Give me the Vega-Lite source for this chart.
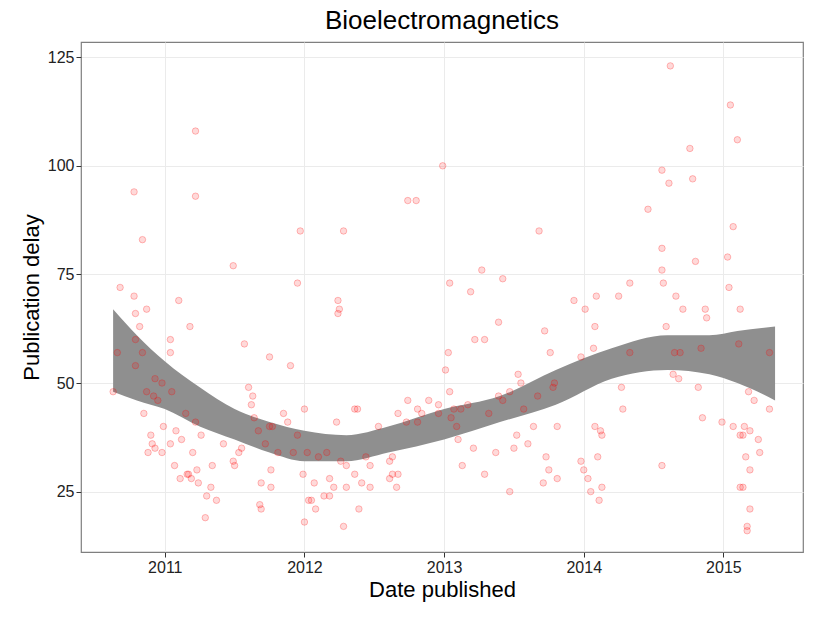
{
  "$schema": "https://vega.github.io/schema/vega-lite/v6.json",
  "autosize": {"type": "fit", "contains": "padding"},
  "width": 825,
  "height": 618,
  "padding": {"left": 20, "right": 22, "top": 8, "bottom": 18},
  "background": "white",
  "config": {
    "font": "Liberation Sans",
    "view": {"stroke": "#7f7f7f", "strokeWidth": 1.2},
    "axis": {"gridColor": "#ebebeb", "domain": false, "tickColor": "#333333", "labelColor": "#222222", "labelFontSize": 16, "titleFontSize": 22, "titleFontWeight": "normal", "titleColor": "black", "tickSize": 5}
  },
  "title": {"text": "Bioelectromagnetics", "fontSize": 26, "fontWeight": "normal", "anchor": "middle", "offset": 8},
  "datasets": {
    "pts": [
      {"d":2010.63,"v":48},{"d":2010.66,"v":57},{"d":2010.68,"v":72},{"d":2010.78,"v":94},{"d":2010.78,"v":70},{"d":2010.79,"v":66},{"d":2010.79,"v":60},{"d":2010.79,"v":54},{"d":2010.82,"v":63},{"d":2010.84,"v":83},{"d":2010.84,"v":57},{"d":2010.85,"v":43},{"d":2010.87,"v":67},{"d":2010.87,"v":48},{"d":2010.88,"v":34},{"d":2010.90,"v":38},{"d":2010.91,"v":36},{"d":2010.92,"v":47},{"d":2010.93,"v":51},{"d":2010.93,"v":35},{"d":2010.95,"v":46},{"d":2010.98,"v":50},{"d":2010.98,"v":34},{"d":2010.99,"v":40},{"d":2011.04,"v":57},{"d":2011.04,"v":60},{"d":2011.04,"v":36},{"d":2011.05,"v":48},{"d":2011.07,"v":31},{"d":2011.08,"v":39},{"d":2011.10,"v":69},{"d":2011.11,"v":28},{"d":2011.12,"v":37},{"d":2011.15,"v":43},{"d":2011.16,"v":29},{"d":2011.17,"v":29},{"d":2011.18,"v":63},{"d":2011.19,"v":28},{"d":2011.20,"v":34},{"d":2011.22,"v":41},{"d":2011.23,"v":30},{"d":2011.22,"v":108},{"d":2011.22,"v":93},{"d":2011.24,"v":27},{"d":2011.26,"v":38},{"d":2011.29,"v":19},{"d":2011.30,"v":24},{"d":2011.33,"v":26},{"d":2011.34,"v":31},{"d":2011.37,"v":23},{"d":2011.42,"v":36},{"d":2011.49,"v":32},{"d":2011.50,"v":31},{"d":2011.49,"v":77},{"d":2011.53,"v":34},{"d":2011.55,"v":35},{"d":2011.57,"v":59},{"d":2011.60,"v":49},{"d":2011.62,"v":45},{"d":2011.64,"v":42},{"d":2011.63,"v":47},{"d":2011.67,"v":39},{"d":2011.68,"v":22},{"d":2011.69,"v":27},{"d":2011.69,"v":21},{"d":2011.72,"v":36},{"d":2011.75,"v":40},{"d":2011.76,"v":26},{"d":2011.76,"v":30},{"d":2011.75,"v":56},{"d":2011.77,"v":40},{"d":2011.85,"v":43},{"d":2011.90,"v":54},{"d":2011.92,"v":34},{"d":2011.95,"v":73},{"d":2011.97,"v":85},{"d":2011.99,"v":29},{"d":2012.00,"v":44},{"d":2012.00,"v":18},{"d":2012.02,"v":34},{"d":2012.03,"v":23},{"d":2012.05,"v":23},{"d":2012.07,"v":27},{"d":2012.10,"v":33},{"d":2012.08,"v":21},{"d":2012.14,"v":24},{"d":2012.18,"v":28},{"d":2012.18,"v":24},{"d":2012.21,"v":26},{"d":2012.24,"v":69},{"d":2012.24,"v":66},{"d":2012.25,"v":67},{"d":2012.23,"v":41},{"d":2012.28,"v":85},{"d":2012.26,"v":32},{"d":2012.28,"v":17},{"d":2012.30,"v":26},{"d":2012.36,"v":44},{"d":2012.38,"v":44},{"d":2012.36,"v":29},{"d":2012.39,"v":21},{"d":2012.41,"v":27},{"d":2012.47,"v":31},{"d":2012.47,"v":26},{"d":2012.61,"v":32},{"d":2012.61,"v":28},{"d":2012.63,"v":29},{"d":2012.66,"v":26},{"d":2012.67,"v":29},{"d":2012.74,"v":92},{"d":2012.80,"v":92},{"d":2012.73,"v":41},{"d":2012.74,"v":46},{"d":2012.81,"v":44},{"d":2012.84,"v":43},{"d":2012.99,"v":100},{"d":2013.01,"v":53},{"d":2013.03,"v":57},{"d":2013.04,"v":48},{"d":2013.04,"v":73},{"d":2013.05,"v":42},{"d":2013.10,"v":37},{"d":2013.13,"v":31},{"d":2013.19,"v":71},{"d":2013.22,"v":60},{"d":2013.27,"v":76},{"d":2013.29,"v":60},{"d":2013.29,"v":29},{"d":2013.37,"v":34},{"d":2013.39,"v":64},{"d":2013.42,"v":74},{"d":2013.47,"v":25},{"d":2013.52,"v":38},{"d":2013.55,"v":50},{"d":2013.50,"v":35},{"d":2013.68,"v":85},{"d":2013.72,"v":62},{"d":2013.73,"v":33},{"d":2013.71,"v":27},{"d":2013.75,"v":30},{"d":2013.81,"v":28},{"d":2013.81,"v":40},{"d":2013.76,"v":57},{"d":2013.67,"v":47},{"d":2013.60,"v":36},{"d":2013.78,"v":49},{"d":2013.79,"v":50},{"d":2013.93,"v":69},{"d":2013.98,"v":56},{"d":2013.98,"v":32},{"d":2014.00,"v":30},{"d":2014.01,"v":67},{"d":2014.03,"v":28},{"d":2014.05,"v":25},{"d":2014.07,"v":58},{"d":2014.08,"v":40},{"d":2014.08,"v":63},{"d":2014.09,"v":70},{"d":2014.10,"v":33},{"d":2014.11,"v":23},{"d":2014.12,"v":39},{"d":2014.13,"v":26},{"d":2014.13,"v":38},{"d":2014.25,"v":70},{"d":2014.27,"v":49},{"d":2014.28,"v":44},{"d":2014.33,"v":57},{"d":2014.33,"v":73},{"d":2014.46,"v":90},{"d":2014.56,"v":99},{"d":2014.56,"v":81},{"d":2014.56,"v":76},{"d":2014.57,"v":73},{"d":2014.56,"v":31},{"d":2014.59,"v":63},{"d":2014.61,"v":96},{"d":2014.62,"v":123},{"d":2014.65,"v":57},{"d":2014.66,"v":70},{"d":2014.64,"v":52},{"d":2014.68,"v":51},{"d":2014.69,"v":57},{"d":2014.71,"v":67},{"d":2014.76,"v":104},{"d":2014.78,"v":97},{"d":2014.80,"v":78},{"d":2014.82,"v":49},{"d":2014.84,"v":58},{"d":2014.85,"v":42},{"d":2014.87,"v":67},{"d":2014.88,"v":65},{"d":2014.99,"v":41},{"d":2015.03,"v":79},{"d":2015.05,"v":114},{"d":2015.04,"v":72},{"d":2015.07,"v":40},{"d":2015.07,"v":86},{"d":2015.10,"v":106},{"d":2015.12,"v":67},{"d":2015.11,"v":59},{"d":2015.12,"v":38},{"d":2015.12,"v":26},{"d":2015.14,"v":38},{"d":2015.14,"v":26},{"d":2015.15,"v":40},{"d":2015.16,"v":33},{"d":2015.17,"v":17},{"d":2015.17,"v":16},{"d":2015.19,"v":30},{"d":2015.19,"v":21},{"d":2015.18,"v":48},{"d":2015.19,"v":39},{"d":2015.22,"v":46},{"d":2015.25,"v":37},{"d":2015.26,"v":34},{"d":2015.33,"v":44},{"d":2015.33,"v":57},{"d":2012.67,"v":43},{"d":2012.89,"v":46},{"d":2012.96,"v":43},{"d":2013.09,"v":40},{"d":2013.12,"v":44},{"d":2013.21,"v":35},{"d":2013.32,"v":43},{"d":2013.39,"v":47},{"d":2013.42,"v":46},{"d":2013.47,"v":48},{"d":2013.53,"v":52},{"d":2013.57,"v":44},{"d":2013.64,"v":40},{"d":2011.95,"v":38},{"d":2011.88,"v":41},{"d":2011.81,"v":34},{"d":2012.16,"v":34},{"d":2012.30,"v":31},{"d":2012.44,"v":33},{"d":2012.53,"v":40},{"d":2012.63,"v":33},{"d":2012.81,"v":41},{"d":2012.96,"v":45},{"d":2013.07,"v":44},{"d":2013.17,"v":45}
    ],
    "band": [
      {"d":2010.63,"lo":48,"hi":67},{"d":2010.8,"lo":46,"hi":61},{"d":2011.0,"lo":44,"hi":55},{"d":2011.25,"lo":40,"hi":49},{"d":2011.5,"lo":37,"hi":44},{"d":2011.75,"lo":34,"hi":41},{"d":2012.0,"lo":32,"hi":39},{"d":2012.3,"lo":32,"hi":38},{"d":2012.6,"lo":34,"hi":40},{"d":2013.0,"lo":37,"hi":44},{"d":2013.4,"lo":41,"hi":47},{"d":2013.8,"lo":45,"hi":53},{"d":2014.2,"lo":51,"hi":58},{"d":2014.6,"lo":53,"hi":61},{"d":2014.9,"lo":52,"hi":61},{"d":2015.1,"lo":50,"hi":62},{"d":2015.37,"lo":46,"hi":63}
    ]
  },
  "layer": [
    {
      "data": {"name": "band"},
      "mark": {"type": "area", "color": "#8f8f8f", "opacity": 1, "interpolate": "monotone"},
      "encoding": {
        "x": {"field": "d", "type": "quantitative", "scale": {"domain": [2010.4, 2015.57], "nice": false, "zero": false}, "axis": {"title": "Date published", "values": [2011, 2012, 2013, 2014, 2015], "format": "d"}},
        "y": {"field": "lo", "type": "quantitative", "scale": {"domain": [11.1, 128.5], "nice": false, "zero": false}, "axis": {"title": "Publication delay", "values": [25, 50, 75, 100, 125]}},
        "y2": {"field": "hi"}
      }
    },
    {
      "data": {"name": "pts"},
      "mark": {"type": "point", "shape": "circle", "filled": false, "fill": "#ff0000", "fillOpacity": 0.15, "stroke": "#ff0000", "strokeOpacity": 0.25, "strokeWidth": 1, "size": 42},
      "encoding": {
        "x": {"field": "d", "type": "quantitative"},
        "y": {"field": "v", "type": "quantitative"}
      }
    }
  ]
}
